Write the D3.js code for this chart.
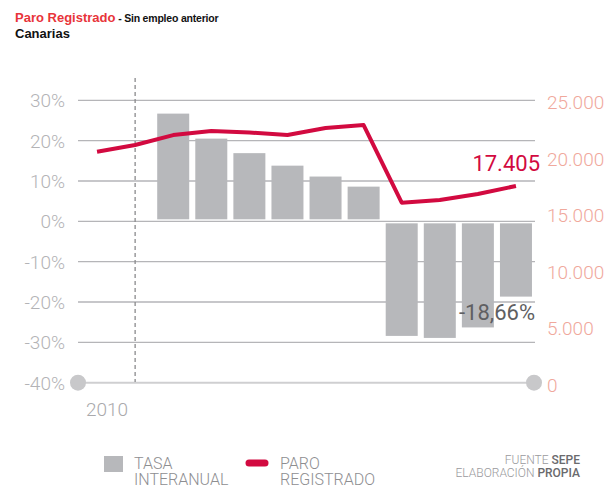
<!DOCTYPE html>
<html>
<head>
<meta charset="utf-8">
<script src="https://cdn.jsdelivr.net/npm/d3@7"></script>
<style>
  body { margin: 0; background: #fff; }
  svg text { font-family: Roboto, "Liberation Sans", sans-serif; }
</style>
</head>
<body>
<svg id="chart" width="606" height="489"></svg>
<script>
"use strict";
// months (two leading months without interannual rate)
const months = ["nov-09", "dic-09", "ene-10", "feb-10", "mar-10", "abr-10", "may-10", "jun-10", "jul-10", "ago-10", "sep-10", "oct-10"];
const tasa = [null, null, 26.7, 20.5, 16.9, 13.8, 11.1, 8.6, -28.4, -28.9, -26.3, -18.66];
const paro = [20430, 21020, 21900, 22260, 22130, 21910, 22520, 22790, 15930, 16170, 16700, 17405];
const leftTicks = [30, 20, 10, 0, -10, -20, -30, -40];
const rightTicks = [0, 5000, 10000, 15000, 20000, 25000];

const svg = d3.select("#chart");

const x = d3.scalePoint().domain(months).range([78, 535]).padding(0.5);
const yL = d3.scaleLinear().domain([-40, 30]).range([382.7, 100.3]);
const yR = d3.scaleLinear().domain([0, 25000]).range([383, 100]);

// title
const t1 = svg.append("text").attr("x", 15).attr("y", 22).style("font-family", "'Liberation Sans', Arial, sans-serif").style("font-weight", "bold");
t1.append("tspan").attr("fill", "#e8343a").style("font-size", "13px").text("Paro Registrado");
t1.append("tspan").attr("fill", "#111").style("font-size", "10.5px").attr("letter-spacing", "-0.2").text(" - Sin empleo anterior");
svg.append("text").attr("x", 15).attr("y", 38).style("font-family", "'Liberation Sans', Arial, sans-serif")
    .style("font-weight", "bold").style("font-size", "13px").attr("fill", "#111").text("Canarias");

// grid lines
svg.append("g").selectAll("line")
    .data(leftTicks)
    .enter().append("line")
    .attr("x1", 78).attr("x2", 535)
    .attr("y1", d => yL(d)).attr("y2", d => yL(d))
    .attr("stroke", d => d === -40 ? "#cfcfd1" : "#b5b5b8")
    .attr("stroke-width", d => d === -40 ? 2 : 1.3);

// dashed year separator
svg.append("line")
    .attr("x1", x(months[1])).attr("x2", x(months[1]))
    .attr("y1", 78).attr("y2", 382)
    .attr("stroke", "#8a8a8d").attr("stroke-width", 1.3)
    .attr("stroke-dasharray", "4,3");

svg.append("text").attr("x", 107).attr("y", 416).attr("text-anchor", "middle")
    .style("font-size", "19px").style("font-weight", 300).attr("fill", "#a9a9ac").text("2010");

// end circles
svg.append("g").selectAll("circle")
    .data([78, 534])
    .enter().append("circle")
    .attr("cx", d => d).attr("cy", yL(-40)).attr("r", 8)
    .attr("fill", "#c8c8ca");

// left axis labels
svg.append("g").selectAll("text")
    .data(leftTicks)
    .enter().append("text")
    .attr("x", 65).attr("y", d => yL(d) + 7)
    .attr("text-anchor", "end")
    .style("font-size", "19px").style("font-weight", 300)
    .attr("fill", "#b3b3b6")
    .text(d => d + "%");

// right axis labels
const fmtR = d => d === 0 ? "0" : d3.format(",")(d).replace(/,/g, ".");
svg.append("g").selectAll("text")
    .data(rightTicks)
    .enter().append("text")
    .attr("x", 547).attr("y", d => yR(d) + 9)
    .style("font-size", "19px").style("font-weight", 300)
    .attr("fill", "#f0a89c")
    .text(fmtR);

// bars
const barW = 32;
const barData = months.map((m, i) => ({m: m, v: tasa[i]})).filter(d => d.v !== null);
svg.append("g").selectAll("rect")
    .data(barData)
    .enter().append("rect")
    .attr("x", d => x(d.m) - barW / 2)
    .attr("width", barW)
    .attr("y", d => d.v > 0 ? yL(d.v) : yL(0) + 2)
    .attr("height", d => d.v > 0 ? yL(0) - 2 - yL(d.v) : yL(d.v) - yL(0) - 2)
    .attr("fill", "#b7b8bb");

// line
const line = d3.line()
    .x((d, i) => x(months[i]))
    .y(d => yR(d));
svg.append("path")
    .datum(paro)
    .attr("d", line)
    .attr("fill", "none")
    .attr("stroke", "#d20a40")
    .attr("stroke-width", 4)
    .attr("stroke-linejoin", "round");

// value labels
const last = months.length - 1;
svg.append("text").attr("x", 540).attr("y", 171).attr("text-anchor", "end")
    .style("font-size", "22px").attr("fill", "#d20a40")
    .text(fmtR(paro[last]));
svg.append("text").attr("x", 535).attr("y", 320).attr("text-anchor", "end")
    .style("font-size", "22px").attr("fill", "#5f5f62")
    .text(String(tasa[last]).replace(".", ",") + "%");

// legend
const lg = svg.append("g");
lg.append("rect").attr("x", 104).attr("y", 456).attr("width", 19).attr("height", 16).attr("fill", "#b7b8bb");
lg.append("line").attr("x1", 249).attr("x2", 265).attr("y1", 463).attr("y2", 463)
    .attr("stroke", "#d20a40").attr("stroke-width", 7).attr("stroke-linecap", "round");
const legendText = [["TASA", "INTERANUAL", 134], ["PARO", "REGISTRADO", 280]];
legendText.forEach(d => {
    [d[0], d[1]].forEach((s, j) => {
        lg.append("text").attr("x", d[2]).attr("y", 469 + j * 16)
            .style("font-size", "16px").style("font-weight", 300).attr("fill", "#8e8e91")
            .text(s);
    });
});

// source
const src = svg.append("g").style("font-size", "12px");
const s1 = src.append("text").attr("x", 580).attr("y", 464).attr("text-anchor", "end");
s1.append("tspan").attr("fill", "#9a9a9d").style("font-weight", 300).text("FUENTE ");
s1.append("tspan").attr("fill", "#6a6a6d").style("font-weight", 500).text("SEPE");
const s2 = src.append("text").attr("x", 580).attr("y", 477).attr("text-anchor", "end");
s2.append("tspan").attr("fill", "#9a9a9d").style("font-weight", 300).text("ELABORACIÓN ");
s2.append("tspan").attr("fill", "#6a6a6d").style("font-weight", 500).text("PROPIA");
</script>
</body>
</html>
